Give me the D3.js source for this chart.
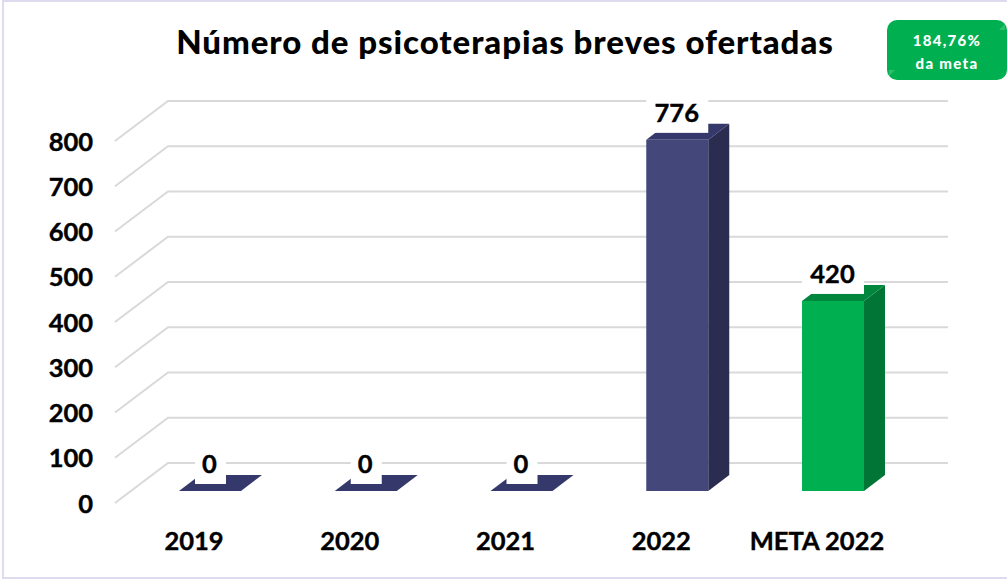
<!DOCTYPE html>
<meta charset="utf-8">
<head>
  <title>Psicoterapias breves</title>
</head>
<body style="margin:0;background:#fff">
<style>
.tick text, .cat, .val { font: 700 25.5px Lato, sans-serif; fill: #000; stroke: #000; stroke-width: .4px; }
.title { font: 900 33px Lato, sans-serif; letter-spacing: .93px; fill: #000; }
.badge { font: 900 15px Lato, sans-serif; fill: #fff; letter-spacing: 1.3px; }
</style>
<svg width="1007" height="580" style="display:block"></svg>
<script src="https://d3js.org/d3.v7.min.js"></script>
<script>

var categories = ["2019", "2020", "2021", "2022", "META 2022"];
var values = [0, 0, 0, 776, 420];
var tickValues = [0, 100, 200, 300, 400, 500, 600, 700, 800];
var barColors = ["#44477a", "#44477a", "#44477a", "#44477a", "#00b050"];
var sideColors = ["#2b2d50", "#2b2d50", "#2b2d50", "#2b2d50", "#007535"];
var topColors = ["#35386a", "#35386a", "#35386a", "#35386a", "#00873d"];

var svg = d3.select("svg");

// frame
svg.append("rect").attr("x", 3).attr("y", 1).attr("width", 1010).attr("height", 577)
    .attr("fill", "none").attr("stroke", "#dcdcee").attr("stroke-width", 2);

var y = d3.scaleLinear().domain([0, 800]).range([503, 141]);
var x = d3.scaleBand().domain(categories).range([117, 926]).paddingInner(0.602).paddingOuter(0.398);

// depth of the 3d floor, and how far the bars sit inside it
var dx = 53, dy = 40, barDy = 12, sideX = 21, sideY = 16;

var grid = svg.append("g").attr("fill", "none").attr("stroke", "#d9d9d9").attr("stroke-width", 2);
grid.selectAll("path").data(tickValues).enter().append("path")
    .attr("d", function(d) {
      return "M115," + y(d) + "L" + (115 + dx) + "," + (y(d) - dy) + "H948";
    });

// y labels
var axis = svg.append("g").attr("transform", "translate(100,0)")
    .call(d3.axisLeft(y).tickValues(tickValues).tickSize(0).tickPadding(7));
axis.select(".domain").remove();
axis.selectAll("text").attr("dy", "0.36em");

var bars = svg.selectAll(".bar").data(values).enter().append("g").attr("class", "bar");

var bx = function(i) { return x(categories[i]); };
var bw = x.bandwidth();

bars.append("path").attr("fill", function(d, i) { return sideColors[i]; })
    .attr("d", function(d, i) {
      var r = bx(i) + bw, b = y(0) - barDy, t = y(d) - barDy;
      return "M" + r + "," + b + "V" + t + "l" + sideX + "," + (-sideY) + "V" + (b - sideY) + "Z";
    });
bars.append("rect").attr("fill", function(d, i) { return barColors[i]; })
    .attr("x", function(d, i) { return bx(i); })
    .attr("y", function(d) { return y(d) - barDy; })
    .attr("width", bw)
    .attr("height", function(d) { return y(0) - y(d); });
bars.append("path").attr("fill", function(d, i) { return topColors[i]; })
    .attr("d", function(d, i) {
      var t = y(d) - barDy;
      return "M" + bx(i) + "," + t + "l" + sideX + "," + (-sideY) + "h" + bw + "l" + (-sideX) + "," + sideY + "Z";
    });

// value labels with white boxes
var labels = svg.selectAll(".lab").data(values).enter().append("g").attr("class", "lab");
labels.append("rect").attr("fill", "#fff")
    .attr("x", function(d, i) { return bx(i) + (i < 3 ? 16 : 0); })
    .attr("y", function(d) { return y(d) - barDy - 40; })
    .attr("width", function(d, i) { return i < 3 ? 31 : bw; })
    .attr("height", 33);
labels.append("text").attr("class", "val").attr("text-anchor", "middle")
    .attr("x", function(d, i) { return bx(i) + bw / 2 - 0.5; })
    .attr("y", function(d) { return y(d) - barDy - 27.5; })
    .attr("dy", "0.36em")
    .text(function(d) { return d; });

svg.selectAll(".cat").data(categories).enter().append("text").attr("class", "cat")
    .attr("text-anchor", "middle")
    .attr("x", function(d) { return x(d) + bw / 2 - 16; })
    .attr("y", 541)
    .attr("dy", "0.36em")
    .text(function(d) { return d; });

svg.append("text").attr("class", "title").attr("text-anchor", "middle")
    .attr("x", 505).attr("y", 42).attr("dy", "0.36em")
    .text("Número de psicoterapias breves ofertadas");

// badge
var badge = svg.append("g");
badge.append("rect").attr("x", 887).attr("y", 20).attr("width", 120).attr("height", 60)
    .attr("rx", 10).attr("fill", "#00b050");
badge.append("path").attr("fill", "#2fbf6c").attr("d", "M999,30l6,-6v6Z");
badge.append("path").attr("fill", "#2fbf6c").attr("d", "M889,76l6,-6h-6Z");
badge.append("text").attr("class", "badge").attr("text-anchor", "middle")
    .attr("x", 947).attr("y", 41).attr("dy", "0.36em").text("184,76%");
badge.append("text").attr("class", "badge").attr("text-anchor", "middle")
    .attr("x", 947).attr("y", 64).attr("dy", "0.36em").text("da meta");

</script>
</body>
</html>
